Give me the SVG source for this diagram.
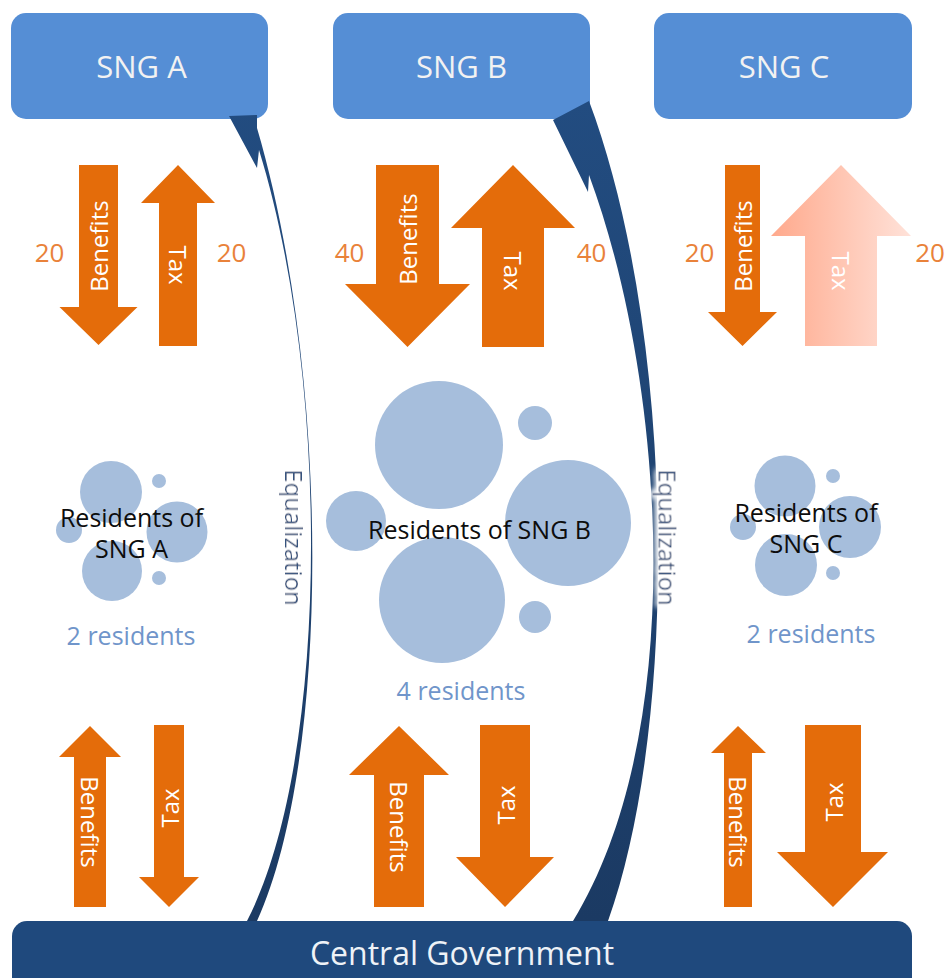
<svg xmlns="http://www.w3.org/2000/svg" width="947" height="978" viewBox="0 0 947 978">
  <defs>
    <linearGradient id="paleTax" x1="0" y1="0" x2="1" y2="0">
      <stop offset="0" stop-color="#FFA98C"/>
      <stop offset="1" stop-color="#FFE2D9"/>
    </linearGradient>
    <linearGradient id="eqFill" gradientUnits="userSpaceOnUse" x1="0" y1="100" x2="0" y2="921">
      <stop offset="0" stop-color="#224C80"/>
      <stop offset="1" stop-color="#1B3A63"/>
    </linearGradient>
    <filter id="halo" x="-30%" y="-30%" width="160%" height="160%">
      <feMorphology in="SourceAlpha" operator="dilate" radius="2" result="d"/>
      <feGaussianBlur in="d" stdDeviation="3" result="b"/>
      <feFlood flood-color="#ffffff"/>
      <feComposite in2="b" operator="in" result="g"/>
      <feMerge>
        <feMergeNode in="g"/>
        <feMergeNode in="g"/>
        <feMergeNode in="SourceGraphic"/>
      </feMerge>
    </filter>
  </defs>
  <style>
    text { font-family: "Open Sans", "Noto Sans", "Liberation Sans", sans-serif; }
    .box { fill: #558ED5; }
    .boxlabel { fill: #F2F2F2; font-size: 31px; text-anchor: middle; }
    .central { fill: #1F497D; }
    .centrallabel { fill: #EEF2F7; font-size: 32px; text-anchor: middle; }
    .flow { fill: #E46C0A; }
    .pale { fill: url(#paleTax); }
    .flowlabel { fill: #FFFFFF; font-size: 24px; text-anchor: middle; dominant-baseline: central; }
    .amount { fill: #E9823A; font-size: 26px; text-anchor: middle; }
    .dot { fill: #A6BEDC; }
    .res { fill: #0D0D0D; font-size: 25px; text-anchor: middle; }
    .count { fill: #7095CA; font-size: 25px; text-anchor: middle; }
    .eq { fill: url(#eqFill); }
    .eqlabel { fill: #34527E; font-size: 24px; text-anchor: middle; dominant-baseline: central; }
  </style>

  <rect width="947" height="978" fill="#FFFFFF"/>

  <!-- Sub-national governments -->
  <g id="sng-a">
    <rect class="box" x="11" y="13" width="257" height="106" rx="15"/>
    <text class="boxlabel" x="141.5" y="78">SNG A</text>
  </g>
  <g id="sng-b">
    <rect class="box" x="333" y="13" width="257" height="106" rx="15"/>
    <text class="boxlabel" x="461.5" y="78">SNG B</text>
  </g>
  <g id="sng-c">
    <rect class="box" x="654" y="13" width="258" height="106" rx="15"/>
    <text class="boxlabel" x="784" y="78">SNG C</text>
  </g>

  <!-- Resident groups -->
  <g id="residents-a">
    <circle class="dot" cx="111" cy="492" r="31"/>
    <circle class="dot" cx="112" cy="571" r="30"/>
    <circle class="dot" cx="177" cy="532" r="30.5"/>
    <circle class="dot" cx="69" cy="530" r="13"/>
    <circle class="dot" cx="159" cy="481" r="7"/>
    <circle class="dot" cx="159" cy="578" r="7"/>
    <text class="res" x="131.5" y="527">Residents of</text>
    <text class="res" x="131.5" y="558">SNG A</text>
    <text class="count" x="131" y="645">2 residents</text>
  </g>
  <g id="residents-b">
    <circle class="dot" cx="439" cy="445" r="64"/>
    <circle class="dot" cx="442" cy="600" r="63"/>
    <circle class="dot" cx="568" cy="523" r="63"/>
    <circle class="dot" cx="356" cy="521" r="30"/>
    <circle class="dot" cx="535" cy="423" r="17"/>
    <circle class="dot" cx="535" cy="617" r="16"/>
    <text class="res" x="479.5" y="539">Residents of SNG B</text>
    <text class="count" x="461" y="700">4 residents</text>
  </g>
  <g id="residents-c">
    <circle class="dot" cx="785" cy="486" r="30.5"/>
    <circle class="dot" cx="786" cy="565" r="31"/>
    <circle class="dot" cx="850" cy="527" r="31"/>
    <circle class="dot" cx="743" cy="527" r="13"/>
    <circle class="dot" cx="833" cy="476" r="7"/>
    <circle class="dot" cx="833" cy="573" r="7"/>
    <text class="res" x="806" y="522">Residents of</text>
    <text class="res" x="806" y="553">SNG C</text>
    <text class="count" x="811" y="643">2 residents</text>
  </g>

  <!-- Central government -->
  <g id="central-government">
    <rect class="central" x="12" y="921" width="900" height="90" rx="15"/>
    <text class="centrallabel" x="462" y="965">Central Government</text>
  </g>

  <!-- Flows: benefits, taxes and equalization transfers -->
  <g id="connectors">
    <!-- SNG A <-> residents -->
    <polygon class="flow" points="79,165 118,165 118,307 137.5,307 98.5,345 59.5,307 79,307"/>
    <polygon class="flow" points="159,346 197,346 197,203 215,203 178,165 141,203 159,203"/>
    <text class="flowlabel" transform="translate(98.5,246) rotate(-90)">Benefits</text>
    <text class="flowlabel" transform="translate(178,265) rotate(90)">Tax</text>
    <text class="amount" x="49.5" y="262">20</text>
    <text class="amount" x="231.5" y="262">20</text>

    <!-- SNG B <-> residents -->
    <polygon class="flow" points="376,165 439,165 439,284 470,284 407.5,347 345,284 376,284"/>
    <polygon class="flow" points="482,347 544,347 544,228 575,228 513,165 451,228 482,228"/>
    <text class="flowlabel" transform="translate(407.5,239) rotate(-90)">Benefits</text>
    <text class="flowlabel" transform="translate(513,271) rotate(90)">Tax</text>
    <text class="amount" x="349.5" y="262">40</text>
    <text class="amount" x="591.5" y="262">40</text>

    <!-- SNG C <-> residents -->
    <polygon class="flow" points="725,165 760,165 760,312 777,312 742.5,346 708,312 725,312"/>
    <polygon class="pale" points="805,346 877,346 877,236 911,236 841,165 771,236 805,236"/>
    <text class="flowlabel" transform="translate(742.5,246) rotate(-90)">Benefits</text>
    <text class="flowlabel" transform="translate(841,271) rotate(90)">Tax</text>
    <text class="amount" x="699.5" y="262">20</text>
    <text class="amount" x="930" y="262">20</text>

    <!-- residents A <-> central -->
    <polygon class="flow" points="74,907 106,907 106,757 121,757 90,726 59,757 74,757"/>
    <polygon class="flow" points="154,725 184,725 184,877 199,877 169,907 139,877 154,877"/>
    <text class="flowlabel" transform="translate(90,822) rotate(90)">Benefits</text>
    <text class="flowlabel" transform="translate(169,808) rotate(-90)">Tax</text>

    <!-- residents B <-> central -->
    <polygon class="flow" points="374,907 424,907 424,775 449,775 399,726 349,775 374,775"/>
    <polygon class="flow" points="480,725 530,725 530,857 554,857 505,907 456,857 480,857"/>
    <text class="flowlabel" transform="translate(399,827) rotate(90)">Benefits</text>
    <text class="flowlabel" transform="translate(505,805) rotate(-90)">Tax</text>

    <!-- residents C <-> central -->
    <polygon class="flow" points="724,907 752,907 752,753 766,753 738,726 711,753 724,753"/>
    <polygon class="flow" points="805,725 861,725 861,852 888,852 833,907 777,852 805,852"/>
    <text class="flowlabel" transform="translate(738,822) rotate(90)">Benefits</text>
    <text class="flowlabel" transform="translate(833,802) rotate(-90)">Tax</text>

    <!-- equalization: central -> SNG A -->
    <path class="eq" d="M229,116 L257,115 L257,128 C331,380 330.5,760 257,921 L247,921 C330,760 330.5,380 259,150 L257,168 Z"/>
    <text class="eqlabel" filter="url(#halo)" transform="translate(295,537.5) rotate(90)">Equalization</text>

    <!-- equalization: central -> SNG B -->
    <path class="eq" d="M553,120 L589,101 C675,330 680,720 608,921 L573,921 C690,730 665,380 589,175 L588,192 Z"/>
    <text class="eqlabel" filter="url(#halo)" transform="translate(668.5,537.5) rotate(90)">Equalization</text>
  </g>
</svg>
